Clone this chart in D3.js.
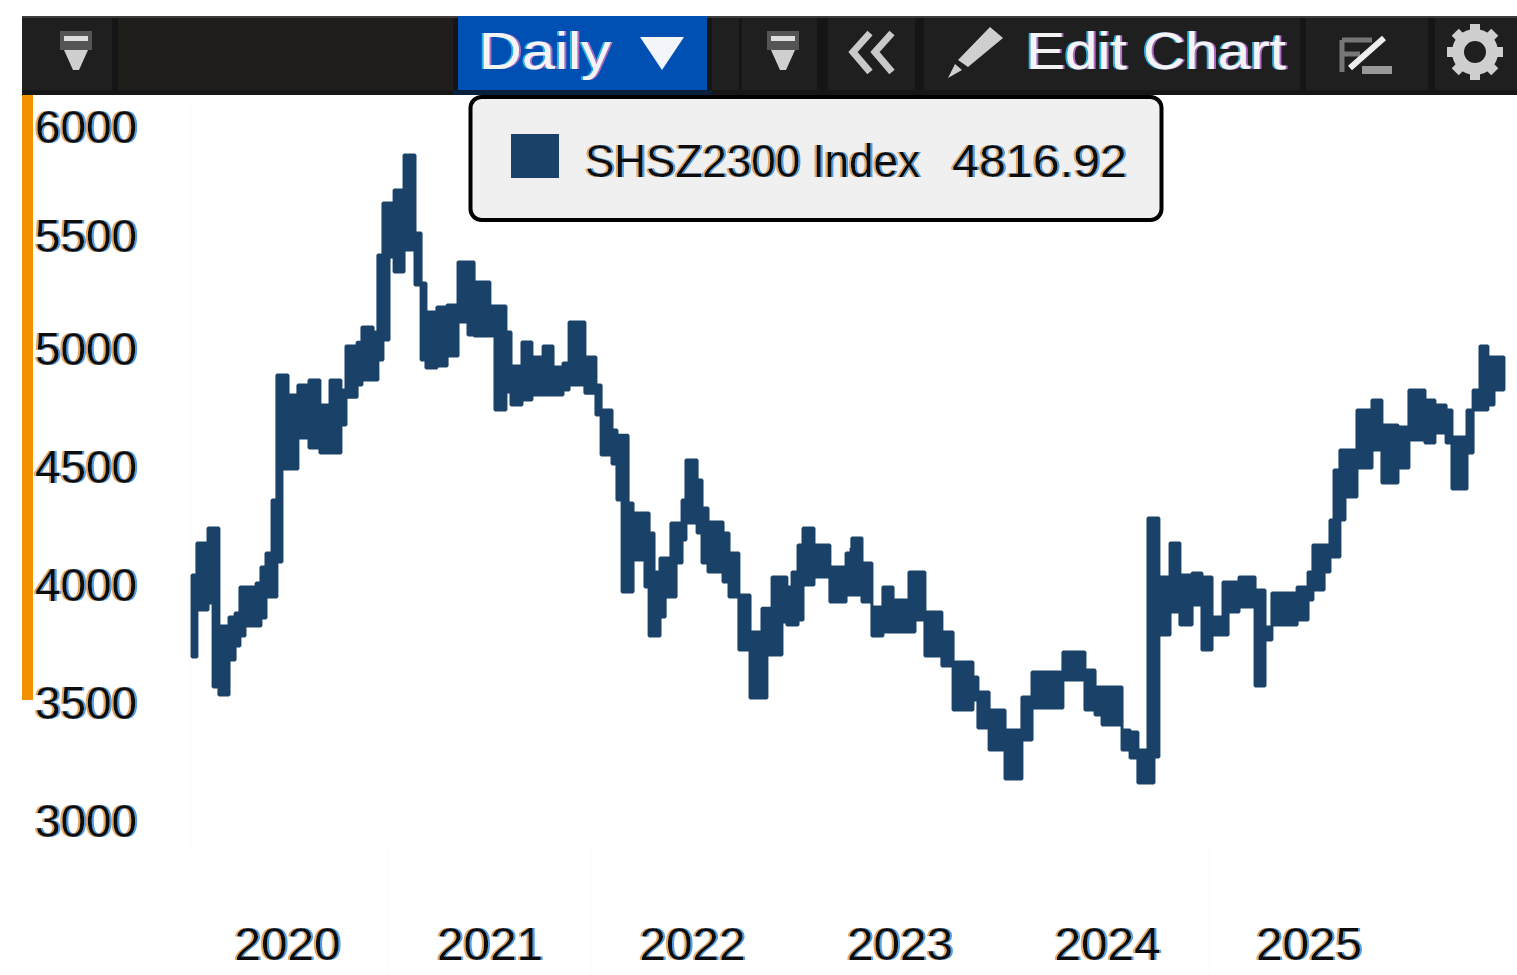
<!DOCTYPE html>
<html><head><meta charset="utf-8">
<style>html,body{margin:0;background:#fff}svg{display:block}text{font-family:"Liberation Sans",sans-serif}</style>
<script src="https://cdn.jsdelivr.net/npm/d3@7"></script></head><body>
<script>
const seriesName = "SHSZ2300 Index";
const lastValue = "4816.92";
const yearLabels = [2020.5,2021.5,2022.49,2023.495,2024.5,2025.485];
const valueTicks = [3000,3500,4000,4500,5000,5500,6000];
const times = [2020.03,2020.054,2020.109,2020.134,2020.163,2020.213,2020.243,2020.267,2020.292,2020.347,2020.371,2020.396,2020.426,2020.45,2020.475,2020.505,2020.554,2020.609,2020.663,2020.713,2020.767,2020.792,2020.847,2020.871,2020.926,2020.95,2020.975,2021.005,2021.03,2021.079,2021.133,2021.163,2021.187,2021.241,2021.291,2021.345,2021.394,2021.424,2021.502,2021.527,2021.581,2021.606,2021.66,2021.709,2021.764,2021.813,2021.862,2021.892,2021.97,2022.024,2022.049,2022.102,2022.126,2022.151,2022.18,2022.204,2022.262,2022.282,2022.306,2022.335,2022.36,2022.388,2022.413,2022.442,2022.461,2022.515,2022.539,2022.568,2022.641,2022.67,2022.718,2022.772,2022.83,2022.854,2022.879,2022.927,2022.951,2022.976,2023.005,2023.029,2023.082,2023.159,2023.237,2023.261,2023.265,2023.314,2023.362,2023.415,2023.464,2023.541,2023.57,2023.618,2023.7,2023.754,2023.85,2023.874,2023.928,2024.005,2024.087,2024.136,2024.286,2024.393,2024.442,2024.476,2024.573,2024.612,2024.65,2024.699,2024.728,2024.752,2024.806,2024.854,2024.913,2024.961,2025.01,2025.064,2025.089,2025.143,2025.222,2025.271,2025.305,2025.429,2025.483,2025.507,2025.562,2025.591,2025.611,2025.64,2025.665,2025.724,2025.798,2025.847,2025.926,2025.98,2026.059,2026.108,2026.163,2026.192,2026.266,2026.296,2026.33,2026.369,2026.399,2026.448];
const highs = [4042,4178,4241,4241,3826,3864,3881,3991,3991,4008,4076,4136,4360,4890,4890,4805,4847,4869,4763,4869,4826,5013,5030,5097,5075,5416,5651,5651,5711,5872,5514,5292,5164,5186,5195,5385,5385,5296,5190,5190,5075,4928,5031,4966,5013,4924,4941,5119,4966,4847,4741,4657,4635,4635,4347,4305,4305,4220,4055,4114,4114,4263,4263,4360,4530,4445,4326,4267,4220,4136,3958,3801,3902,3902,4034,4034,3991,4055,4169,4241,4169,4076,4136,4157,4199,4093,3907,3991,3936,4055,4055,3886,3801,3674,3610,3547,3470,3386,3525,3631,3716,3640,3568,3568,3386,3377,3301,4284,4284,4034,4178,4042,4051,4034,3864,4013,4013,4034,3979,3822,3966,3991,4055,4169,4169,4275,4487,4572,4572,4741,4784,4678,4669,4826,4784,4763,4741,4627,4741,4826,5013,4966,4966,4966];
const lows = [3695,3894,3924,3568,3534,3682,3741,3784,3826,3826,3860,3949,3949,4097,4491,4491,4623,4580,4559,4559,4678,4796,4847,4869,4869,4953,5040,5407,5341,5438,5283,4953,4919,4928,4970,5119,5062,5058,5058,4741,4818,4763,4784,4805,4805,4805,4826,4847,4813,4720,4551,4513,4360,3970,3970,4106,3991,3784,3784,3864,3949,3949,4093,4191,4263,4220,4093,4055,4013,3949,3725,3521,3521,3703,3703,3843,3830,3830,3852,4000,4034,3928,3958,3958,3958,3928,3784,3801,3801,3801,3852,3699,3657,3470,3513,3394,3301,3178,3343,3479,3597,3470,3449,3407,3301,3267,3161,3161,3271,3788,3886,3830,3915,3725,3788,3788,3886,3907,3572,3767,3830,3852,3936,3979,4055,4119,4119,4275,4373,4496,4572,4432,4496,4614,4602,4644,4602,4407,4559,4741,4741,4763,4826,4826];

const W=1517,H=975;
const svg=d3.select("body").append("svg").attr("width",W).attr("height",H);
const defs=svg.append("defs");
function fringe(id,left,right,d){
  const f=defs.append("filter").attr("id",id).attr("x","-5%").attr("y","-10%").attr("width","110%").attr("height","120%");
  f.append("feFlood").attr("flood-color",left).attr("result","a");
  f.append("feOffset").attr("in","SourceAlpha").attr("dx",-d).attr("result","o1");
  f.append("feComposite").attr("in","a").attr("in2","o1").attr("operator","in").attr("result","l");
  f.append("feFlood").attr("flood-color",right).attr("result","b");
  f.append("feOffset").attr("in","SourceAlpha").attr("dx",d).attr("result","o2");
  f.append("feComposite").attr("in","b").attr("in2","o2").attr("operator","in").attr("result","r");
  const m=f.append("feMerge").attr("result","all");
  m.append("feMergeNode").attr("in","l");m.append("feMergeNode").attr("in","r");m.append("feMergeNode").attr("in","SourceGraphic");
  f.append("feGaussianBlur").attr("in","all").attr("stdDeviation",0.7);
}
fringe("fd","#e9a860","#4f9fe8",2.2);
fringe("fl","#27b4e6","#b06ac0",1.6);

// scales
const x=d3.scaleLinear().domain([2020,2021,2022,2023,2024,2025,2026,2027]).range([186,388,591,797,1004,1210,1413,1616]);
const y=d3.scaleLinear().domain([3000,3500,4000,4500,5000,5500,6000]).range([821,703,585,467,349,236,127]);

// faint grid
const grid=svg.append("g").attr("stroke","#f9f9f9").attr("stroke-width",1);
grid.append("line").attr("x1",190).attr("x2",190).attr("y1",100).attr("y2",850);
grid.selectAll(".v").data([2021,2022,2025]).join("line").attr("x1",d=>x(d)).attr("x2",d=>x(d)).attr("y1",850).attr("y2",975);

// toolbar
const tb=svg.append("g");
tb.append("rect").attr("x",22).attr("y",16).attr("width",W-22).attr("height",79).attr("fill","#1f1f1f");
tb.append("rect").attr("x",22).attr("y",16).attr("width",W-22).attr("height",2).attr("fill","#3d3d3d");
tb.append("rect").attr("x",22).attr("y",90).attr("width",W-22).attr("height",5).attr("fill","#161616");
tb.append("rect").attr("x",118).attr("y",18).attr("width",335).attr("height",72).attr("fill","#201e1a");
[[112,6],[453,5],[707,5],[739,3],[817,11],[915,9],[1300,6],[1428,7]].forEach(s=>
  tb.append("rect").attr("x",s[0]).attr("y",18).attr("width",s[1]).attr("height",72).attr("fill","#151515"));
tb.append("rect").attr("x",458).attr("y",16).attr("width",249).attr("height",74).attr("fill","#0050b4");
tb.append("rect").attr("x",453).attr("y",90).attr("width",259).attr("height",5).attr("fill","#0a1f3c");
function funnel(cx){
  tb.append("rect").attr("x",cx-16).attr("y",31).attr("width",32).attr("height",19).attr("fill","#555");
  tb.append("rect").attr("x",cx-12).attr("y",36).attr("width",24).attr("height",5).attr("fill","#ddd");
  tb.append("path").attr("d",`M${cx-12},50H${cx+12}L${cx+3},70H${cx-3}Z`).attr("fill","#cfcfcf");
}
funnel(76);funnel(783);
tb.append("path").attr("d","M640,37H684L662,70Z").attr("fill","#f2f6fb");
tb.append("path").attr("d","M870,33L853,52L870,72M892,33L875,52L892,72").attr("fill","none").attr("stroke","#c9c9c9").attr("stroke-width",7);
tb.append("path").attr("d","M990,27L1003,38L968,67L958,60ZM955,64L962,70L948,78Z").attr("fill","#cfcfcf");
tb.append("path").attr("d","M1342,40H1372M1342,40V72M1342,54H1360").attr("fill","none").attr("stroke","#777").attr("stroke-width",5);
tb.append("path").attr("d","M1350,68L1384,38").attr("stroke","#eee").attr("stroke-width",6);
tb.append("rect").attr("x",1362).attr("y",66).attr("width",30).attr("height",8).attr("fill","#999");
const gear=tb.append("g").attr("transform","translate(1475,52)");
gear.append("circle").attr("r",17).attr("fill","none").attr("stroke","#cfcfcf").attr("stroke-width",12);
d3.range(8).forEach(i=>gear.append("rect").attr("x",-5).attr("y",-28).attr("width",10).attr("height",12).attr("fill","#cfcfcf").attr("transform",`rotate(${i*45})`));

function toolText(s,xx,yy,len){
  tb.append("text").attr("x",xx).attr("y",yy).attr("font-size",52).attr("fill","#f4f4f4").attr("filter","url(#fl)")
    .attr("textLength",len).attr("lengthAdjust","spacingAndGlyphs").text(s);
}
toolText("Daily",479,69,132);
toolText("Edit Chart",1026,69,260);

// accent bar
svg.append("rect").attr("x",22).attr("y",95).attr("width",11).attr("height",605).attr("fill","#f39200");

// series band
const rows=times.map((t,i)=>({t,hi:highs[i],lo:lows[i]}));
const band=d3.area().curve(d3.curveStepAfter).x(d=>x(d.t)).y0(d=>y(d.lo)).y1(d=>y(d.hi));
svg.append("path").datum(rows).attr("d",band).attr("fill","#1a4269").attr("stroke","#1a4269").attr("stroke-width",3).attr("stroke-linejoin","bevel");

// axes
const yAxis=d3.axisLeft(y).tickValues(valueTicks).tickSize(0).tickPadding(0).tickFormat(d3.format("d"));
const gy=svg.append("g").attr("transform","translate(137,-1)").call(yAxis);
gy.select(".domain").remove();
gy.selectAll("text").attr("font-size",46).attr("font-family","Liberation Sans").attr("fill","#111").attr("filter","url(#fd)")
  .attr("dy","0.36em").attr("textLength",102).attr("lengthAdjust","spacingAndGlyphs");
const xAxis=d3.axisBottom(x).tickValues(yearLabels).tickSize(0).tickPadding(0).tickFormat(d=>String(Math.floor(d)));
const gx=svg.append("g").attr("transform","translate(0,943)").call(xAxis);
gx.select(".domain").remove();
gx.selectAll("text").attr("font-size",46).attr("font-family","Liberation Sans").attr("fill","#111").attr("filter","url(#fd)")
  .attr("dy","0.36em").attr("y",0).attr("textLength",106).attr("lengthAdjust","spacingAndGlyphs");

// legend
const lg=svg.append("g");
lg.append("rect").attr("x",470.5).attr("y",97).attr("width",691).attr("height",123).attr("rx",11).attr("fill","#f0f0f0").attr("stroke","#000").attr("stroke-width",4);
lg.append("rect").attr("x",511).attr("y",134).attr("width",48).attr("height",44).attr("fill","#1a4269");
lg.append("text").attr("x",585).attr("y",177).attr("font-size",46).attr("fill","#111").attr("filter","url(#fd)")
  .attr("textLength",335).attr("lengthAdjust","spacingAndGlyphs").text(seriesName);
lg.append("text").attr("x",952).attr("y",177).attr("font-size",46).attr("fill","#111").attr("filter","url(#fd)")
  .attr("textLength",175).attr("lengthAdjust","spacingAndGlyphs").text(lastValue);
</script></body></html>
